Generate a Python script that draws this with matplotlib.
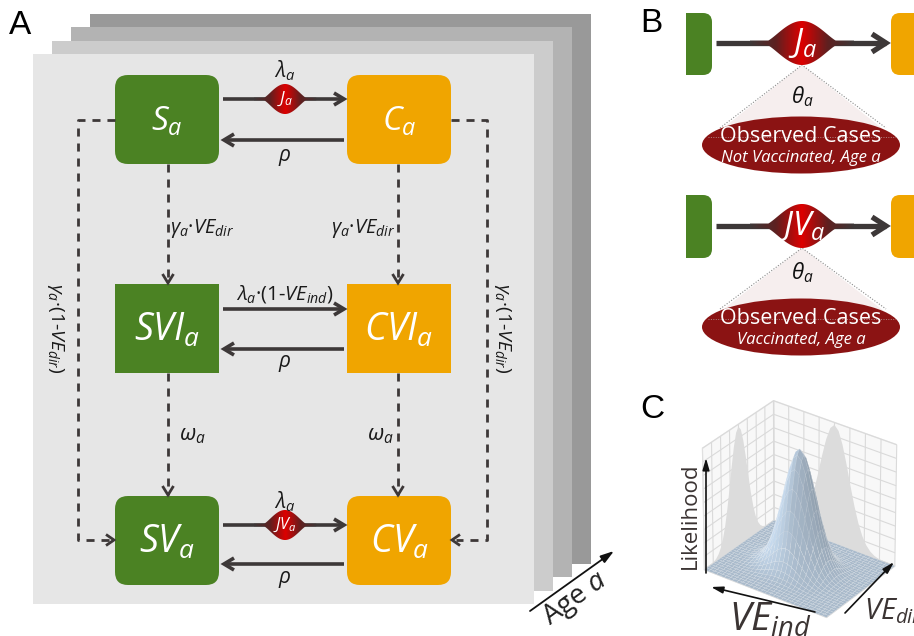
import numpy as np
import matplotlib
matplotlib.use('Agg')
import matplotlib.pyplot as plt
from matplotlib.patches import FancyBboxPatch, Rectangle, Polygon, Ellipse
from matplotlib.colors import LinearSegmentedColormap, to_rgb
from mpl_toolkits.mplot3d.art3d import Poly3DCollection

plt.rcParams.update({
    'font.family': ['Open Sans', 'DejaVu Sans'],
    'mathtext.fontset': 'custom',
    'mathtext.rm': 'Open Sans',
    'mathtext.it': 'Open Sans:italic',
    'mathtext.bf': 'Open Sans:bold',
    'grid.color': '#dadada',
    'grid.linewidth': 0.8,
})

# ---------------------------------------------------------------- data
age_layer_grays = ['#999999', '#b3b3b3', '#cccccc', '#e6e6e6']
box_rows = [['S', 'C'], ['SVI', 'CVI'], ['SV', 'CV']]
forward_rates = [r'$\lambda_a$', r'$\lambda_a$·(1-$VE_{ind}$)', r'$\lambda_a$']
flow_labels = [r'$J_a$', None, r'$JV_a$']
back_rates = [r'$\rho$', r'$\rho$', r'$\rho$']
down_rates = [r'$\gamma_a$·$VE_{dir}$', r'$\omega_a$']
side_rate = r'$\gamma_a$·(1-$VE_{dir}$)'
obs_flows = [r'$J_a$', r'$JV_a$']
obs_title = 'Observed Cases'
obs_subtitles = ['Not Vaccinated, Age a', 'Vaccinated, Age a']
# likelihood profile (same shape on both walls)
likelihood_profile = [0.0002, 0.0005, 0.0015, 0.004, 0.009, 0.021, 0.044, 0.085,
                      0.151, 0.249, 0.381, 0.539, 0.707, 0.857, 0.962, 1.0,
                      0.962, 0.857, 0.707, 0.539, 0.381, 0.249, 0.151, 0.085,
                      0.044, 0.021, 0.009, 0.004, 0.0015, 0.0005, 0.0002]

GREEN = '#4b8223'
ORANGE = '#f0a500'
DARK = '#3d3838'
RED = '#8b1313'
INK = '#1a1a1a'

W, H = 914, 636
fig = plt.figure(figsize=(W / 100, H / 100), dpi=100)
ax = fig.add_axes([0, 0, 1, 1])
ax.set_xlim(0, W)
ax.set_ylim(H, 0)
ax.set_autoscale_on(False)
ax.axis('off')
ax.set_zorder(2)

flow_cmap = LinearSegmentedColormap.from_list(
    'flow', [DARK, '#5e2020', '#dd0000', '#5e2020', DARK])


def chevron(x, y, dx, dy, L=9, wd=5.5, lw=2.0, color=DARK, z=5):
    n = np.hypot(dx, dy)
    dx, dy = dx / n, dy / n
    bx, by = x - L * dx, y - L * dy
    px, py = -dy, dx
    ax.plot([bx + wd * px, x, bx - wd * px], [by + wd * py, y, by - wd * py],
            color=color, lw=lw, solid_joinstyle='miter', solid_capstyle='butt', zorder=z)


def arrow(x0, y0, x1, y1, lw=2.0, L=9, wd=5.5, dashed=False):
    ls = (0, (2.9, 2.5)) if dashed else '-'
    ax.plot([x0, x1], [y0, y1], color=DARK, lw=lw, ls=ls, solid_capstyle='butt', zorder=3)
    chevron(x1, y1, x1 - x0, y1 - y0, L=L, wd=wd, lw=lw)


def bulge(xc, yc, a, hh, lw_half, label, fs):
    u = np.linspace(-a * 1.3, a * 1.3, 300)
    core = np.clip(1 - (u / a) ** 2, 0, None) ** 1.8
    half = np.maximum(lw_half, hh * core)
    xs = np.concatenate([xc + u, (xc + u)[::-1]])
    ys = np.concatenate([yc - half, (yc + half)[::-1]])
    poly = Polygon(np.column_stack([xs, ys]), closed=True, fc='none', ec='none')
    ax.add_patch(poly)
    img = ax.imshow(np.linspace(0, 1, 256)[None, :], cmap=flow_cmap,
                    extent=(xc - a * 1.3, xc + a * 1.3, yc + hh + 1, yc - hh - 1),
                    aspect='auto', interpolation='bilinear', zorder=4)
    img.set_clip_path(poly)
    ax.text(xc, yc, label, color='white', fontsize=fs, ha='center', va='center', zorder=6)


# ---------------------------------------------------------------- panel A
for i, c in enumerate(age_layer_grays):
    off = 3 - i
    ax.add_patch(Rectangle((33 + 19 * off, 54 - 13.4 * off), 501, 550, color=c, lw=0, zorder=0))

col_x = [115, 347]
row_y = [75, 284, 496]
bw, bh = 104, 89
for r, names in enumerate(box_rows):
    for c, name in enumerate(names):
        style = 'square,pad=0' if r == 1 else 'round,pad=0,rounding_size=13'
        ax.add_patch(FancyBboxPatch((col_x[c], row_y[r]), bw, bh, boxstyle=style,
                                    fc=GREEN if c == 0 else ORANGE, ec='none', zorder=2))
        ax.text(col_x[c] + bw / 2, row_y[r] + bh / 2 + 2, r'$%s_a$' % name,
                color='white', fontsize=24 if r == 0 else 27, ha='center', va='center', zorder=3)

fwd_y = [99, 309, 525]
back_y = [140, 349, 564]
rate_y = [71, 294, 502]
rho_y = [158, 364, 579]
for r in range(3):
    arrow(223, fwd_y[r], 344, fwd_y[r], lw=2.6, L=10, wd=6)
    arrow(344, back_y[r], 224, back_y[r], lw=2.6, L=10, wd=6)
    if flow_labels[r]:
        bulge(285, fwd_y[r], 24, 15, 1.3, flow_labels[r], 12.5 if r == 0 else 11.5)
    ax.text(285, rate_y[r], forward_rates[r], fontsize=15 if r != 1 else 14.5,
            ha='center', va='center', color=INK, zorder=6)
    ax.text(285, rho_y[r], back_rates[r], fontsize=15, ha='center', va='center',
            color=INK, zorder=6)

# vertical dashed transitions
inner_x = [168, 398]
for r in range(2):
    for c in range(2):
        arrow(inner_x[c], row_y[r] + bh, inner_x[c], row_y[r + 1] - 1, lw=2.0, L=9, wd=5.5,
              dashed=True)
ax.text(170, 228, down_rates[0], fontsize=14.5, ha='left', va='center', color=INK)
ax.text(395, 228, down_rates[0], fontsize=14.5, ha='right', va='center', color=INK)
ax.text(192, 435, down_rates[1], fontsize=16, ha='center', va='center', color=INK)
ax.text(380, 435, down_rates[1], fontsize=16, ha='center', va='center', color=INK)

# outer dashed paths (vaccination of C / S straight to fully vaccinated)
dash = (0, (2.9, 2.5))
ax.plot([115, 78, 78, 110], [120, 120, 540, 540], color=DARK, lw=2.0, ls=dash, zorder=3)
chevron(114, 540, 1, 0, L=8, wd=5.5)
ax.plot([451, 487, 487, 456], [120, 120, 540, 540], color=DARK, lw=2.0, ls=dash, zorder=3)
chevron(452, 540, -1, 0, L=8, wd=5.5)
ax.text(55, 328, side_rate, fontsize=14, rotation=-90, ha='center', va='center', color=INK)
ax.text(503, 328, side_rate, fontsize=14, rotation=-90, ha='center', va='center', color=INK)

# age axis
ax.annotate('', xy=(614, 551), xytext=(530, 611),
            arrowprops=dict(arrowstyle='-|>,head_length=0.8,head_width=0.25', lw=1.3,
                            color='#111111', shrinkA=0, shrinkB=0))
ax.text(575, 599, r'Age $a$', fontsize=20, rotation=36, ha='center', va='center',
        color='#222222', rotation_mode='anchor')

ax.text(9, 25, 'A', fontsize=24, family='Liberation Sans', ha='left', va='center')
ax.text(640, 23, 'B', fontsize=24, family='Liberation Sans', ha='left', va='center')
ax.text(640, 409, 'C', fontsize=24, family='Liberation Sans', ha='left', va='center')

# ---------------------------------------------------------------- panel B
b_y = [[13, 75], [195, 258]]
b_arrow_y = [43, 226]
tri_base = [128, 309]
theta_y = [97, 273]
ell_y = [145, 327]
for k in range(2):
    y0, y1 = b_y[k]
    ax.add_patch(FancyBboxPatch((686, y0), 26, y1 - y0, boxstyle='round,pad=0,rounding_size=9',
                                fc=GREEN, ec='none', zorder=2))
    ax.add_patch(Rectangle((686, y0), 12, y1 - y0, fc=GREEN, ec='none', zorder=2))
    ax.add_patch(FancyBboxPatch((891, y0), 40, y1 - y0, boxstyle='round,pad=0,rounding_size=9',
                                fc=ORANGE, ec='none', zorder=2))
    ya = b_arrow_y[k]
    ax.add_patch(Polygon([(802, ya + 22), (712, tri_base[k] + 9), (893, tri_base[k] + 9)],
                         closed=True, fc='#f6eeee', ec='none', zorder=1))
    ax.plot([720, 802, 886], [tri_base[k], ya + 22, tri_base[k]], color='#8a8a8a', lw=0.8,
            ls=(0, (1, 1.5)), zorder=1.5)
    arrow(716, ya, 886, ya, lw=3.8, L=14, wd=9)
    bulge(802, ya, 40, 22, 2.4, obs_flows[k], 24)
    ax.text(802, theta_y[k], r'$\theta_a$', fontsize=16, ha='center', va='center', color='#111111')
    ax.add_patch(Ellipse((801, ell_y[k]), 198, 57, fc=RED, ec='none', zorder=2))
    ax.plot([708, 897], [ell_y[k] - 8, ell_y[k] - 8], color='#b08080', lw=0.7,
            ls=(0, (1, 1.5)), zorder=2.5)
    ax.text(801, ell_y[k] - 8, obs_title, color='white', fontsize=15.5, ha='center',
            va='center', zorder=3)
    ax.text(801, ell_y[k] + 13, obs_subtitles[k], color='white', fontsize=12,
            style='italic', ha='center', va='center', zorder=3)

# ---------------------------------------------------------------- panel C
TXT = '#3b3433'
head = dict(arrowstyle='-|>,head_length=0.7,head_width=0.2', lw=1.2,
            color='#111111', shrinkA=0, shrinkB=0)
ax.annotate('', xy=(706, 458), xytext=(706, 573), arrowprops=head)
ax.annotate('', xy=(711, 587), xytext=(815, 612), arrowprops=head)
ax.annotate('', xy=(894, 562), xytext=(845, 613), arrowprops=head)
ax.text(690, 516, 'Likelihood', fontsize=16, rotation=90, ha='center', va='center', color=TXT)
ax.text(770, 601, r'$VE_{ind}$', fontsize=28, ha='center', va='top', color=TXT)
ax.text(864, 596, r'$VE_{dir}$', fontsize=21, ha='left', va='top', color=TXT)

ax3 = fig.add_axes([0.726, -0.034, 0.29, 0.46], projection='3d')
ax3.set_zorder(1)
ax3.set_facecolor('none')
prof = np.array(likelihood_profile)
g = np.linspace(0, 1, len(prof))
X, Y = np.meshgrid(g, g)
Z = np.outer(prof, prof)

# soft shading of the likelihood surface
dzdy, dzdx = np.gradient(Z, g, g)
nrm = np.dstack([-0.25 * dzdx, -0.25 * dzdy, np.ones_like(Z)])
nrm /= np.linalg.norm(nrm, axis=2, keepdims=True)
light = np.array([-0.45, 0.55, 0.7])
light /= np.linalg.norm(light)
delta = nrm @ light - light[2]
gain = np.where(delta > 0, 1 + 0.6 * delta, 1 + 0.2 * delta)
surf_rgb = np.clip(np.array(to_rgb('#a9bacb'))[None, None, :] * gain[..., None], 0, 1)
surf_col = np.concatenate([surf_rgb, np.ones_like(Z)[..., None]], axis=2)

wall_col = '#dcdcdc'
ax3.add_collection3d(Poly3DCollection(
    [list(zip(g, np.ones_like(g), prof)) + [(1, 1, 0), (0, 1, 0)]],
    facecolors=wall_col, edgecolors='none'))
ax3.add_collection3d(Poly3DCollection(
    [list(zip(np.ones_like(g), g, prof)) + [(1, 1, 0), (1, 0, 0)]],
    facecolors=wall_col, edgecolors='none'))
ax3.plot_surface(X, Y, Z, facecolors=surf_col, shade=False,
                 edgecolor=(1, 1, 1, 0.2), linewidth=0.35, rstride=1, cstride=1)

ax3.set_xlim(0, 1)
ax3.set_ylim(0, 1)
ax3.set_zlim(0, 1.02)
ax3.view_init(elev=31, azim=-144)
ax3.set_proj_type('persp', focal_length=2.5)
ax3.set_box_aspect((119, 152, 142), zoom=0.875)
ax3.set_xticks(np.linspace(0, 1, 9))
ax3.set_yticks(np.linspace(0, 1, 9))
ax3.set_zticks(np.linspace(0, 1.02, 10))
for axis in (ax3.xaxis, ax3.yaxis, ax3.zaxis):
    axis.set_ticklabels([])
    axis.pane.set_facecolor('#f3f3f3')
    axis.pane.set_edgecolor('#d8d8d8')
    axis.line.set_color('#e0e0e0')
    try:
        axis._axinfo['tick']['inward_factor'] = 0
        axis._axinfo['tick']['outward_factor'] = 0
    except Exception:
        pass
ax3.tick_params(colors='none')

fig.savefig('out.png', dpi=100)
